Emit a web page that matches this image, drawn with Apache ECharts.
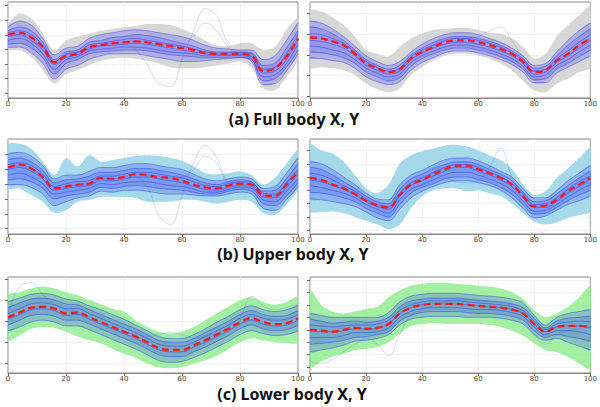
<!DOCTYPE html>
<html>
<head>
<meta charset="utf-8">
<script src="https://cdn.jsdelivr.net/npm/echarts@6/dist/echarts.min.js"></script>
<style>
  html, body { margin: 0; padding: 0; background: #fff; }
  #chart { width: 600px; height: 407px; }
</style>
</head>
<body>
<div id="chart"></div>
<script>
// normalised time (%) shared by every panel
const xs = [0, 4, 8, 12, 16, 20, 24, 28, 32, 36, 40, 44, 48, 52, 56, 60, 64, 68, 72, 76, 80, 84, 88, 92, 96, 100]
const xTicks = [0, 20, 40, 60, 80, 100]

// (a) full body, left panel
const aLeftMean = [66, 68, 63, 53, 37, 44, 46, 53, 55, 57, 58, 59, 58, 56, 54, 52, 50, 47, 46, 46, 46, 44, 28, 31, 43, 62]
const aLeftUpper = [76, 88, 83, 67, 50, 60, 64, 67, 70, 72, 74, 75, 77, 77, 76, 72, 67, 60, 55, 54, 57, 57, 50, 53, 71, 83]
const aLeftLower = [51, 50, 43, 29, 15, 25, 29, 34, 39, 41, 42, 41, 39, 36, 32, 31, 31, 32, 34, 36, 38, 32, 10, 8, 22, 41]
const aLeftLines = [
  [74, 80, 76, 62, 45, 52, 54, 62, 66, 68, 70, 71, 70, 68, 66, 64, 60, 55, 52, 51, 50, 50, 40, 44, 60, 78],
  [70, 74, 70, 58, 40, 48, 50, 58, 60, 63, 64, 66, 65, 63, 60, 57, 54, 50, 48, 48, 48, 47, 34, 36, 52, 70],
  [68, 70, 66, 55, 38, 46, 48, 55, 57, 59, 61, 62, 60, 58, 56, 54, 51, 48, 47, 47, 47, 46, 30, 32, 46, 66],
  [64, 66, 60, 50, 35, 42, 45, 51, 54, 55, 56, 57, 56, 54, 52, 50, 48, 46, 45, 45, 45, 43, 26, 28, 40, 60],
  [60, 62, 57, 46, 30, 40, 43, 49, 51, 52, 53, 53, 52, 50, 48, 47, 46, 44, 44, 44, 44, 41, 22, 24, 36, 56],
  [56, 57, 52, 42, 25, 36, 40, 46, 48, 49, 50, 50, 49, 47, 45, 44, 43, 42, 42, 42, 42, 40, 18, 20, 32, 50],
  [53, 53, 47, 36, 20, 30, 34, 40, 44, 46, 46, 46, 44, 42, 40, 38, 38, 39, 40, 41, 42, 38, 14, 15, 28, 46]
]
const aLeftOutliers = [
  [64, 66, 62, 52, 38, 45, 47, 53, 55, 57, 56, 50, 35, 15, 12, 40, 70, 93, 85, 55, 46, 44, 30, 32, 44, 62],
  [66, 68, 64, 54, 38, 45, 47, 53, 55, 57, 58, 59, 58, 56, 54, 55, 65, 78, 70, 52, 46, 44, 29, 31, 43, 62]
]
const aLeftTicks = [5, 20.2, 35.4, 50.6, 65.8, 81, 96.2]

// (a) full body, right panel
const aRightMean = [63, 62, 59, 55, 46, 36, 31, 27, 30, 41, 48, 53, 58, 60, 60, 58, 55, 51, 46, 38, 27, 29, 39, 46, 55, 62]
const aRightUpper = [91, 90, 84, 76, 64, 50, 46, 43, 53, 62, 67, 71, 72, 73, 73, 71, 68, 67, 62, 53, 41, 46, 64, 76, 86, 95]
const aRightLower = [32, 32, 31, 29, 24, 15, 9, 6, 10, 24, 32, 39, 44, 46, 46, 44, 41, 36, 29, 18, 8, 6, 15, 20, 27, 32]
const aRightLines = [
  [80, 78, 72, 64, 54, 44, 38, 34, 38, 48, 56, 62, 66, 68, 68, 66, 62, 58, 52, 44, 34, 36, 48, 60, 70, 78],
  [74, 72, 67, 60, 50, 40, 34, 30, 34, 45, 52, 58, 62, 64, 64, 62, 59, 55, 49, 41, 31, 33, 44, 55, 64, 72],
  [67, 66, 62, 57, 48, 38, 32, 28, 31, 43, 50, 55, 60, 62, 62, 60, 57, 53, 47, 39, 28, 30, 41, 49, 58, 66],
  [60, 59, 56, 52, 44, 34, 29, 25, 28, 40, 47, 52, 56, 58, 58, 56, 53, 49, 44, 36, 25, 27, 37, 44, 52, 60],
  [54, 53, 50, 47, 40, 31, 26, 22, 25, 37, 44, 49, 53, 55, 55, 53, 50, 46, 41, 33, 22, 24, 34, 40, 48, 55],
  [48, 47, 45, 42, 36, 27, 22, 18, 21, 33, 41, 46, 50, 52, 52, 50, 47, 43, 38, 30, 19, 20, 30, 36, 43, 50],
  [42, 41, 39, 37, 31, 22, 17, 14, 17, 29, 37, 42, 47, 49, 49, 47, 44, 40, 35, 27, 16, 16, 26, 32, 38, 44]
]
const aRightOutliers = [
  [63, 62, 59, 55, 46, 36, 31, 27, 30, 41, 48, 53, 58, 60, 62, 64, 70, 74, 60, 42, 28, 29, 39, 46, 55, 62]
]
const aRightTicks = [1.7, 23.3, 44.9, 66.5, 88.1]

// (b) upper body, left panel
const bLeftMean = [70, 73, 69, 60, 48, 50, 52, 53, 59, 58, 60, 63, 62, 60, 59, 56, 52, 49, 48, 51, 53, 52, 41, 40, 52, 66]
const bLeftUpper = [94, 95, 90, 76, 62, 80, 71, 83, 76, 78, 80, 82, 83, 82, 80, 77, 71, 64, 63, 64, 66, 62, 52, 59, 74, 88]
const bLeftLower = [48, 48, 41, 34, 22, 25, 34, 36, 39, 39, 39, 38, 34, 34, 34, 36, 36, 34, 32, 34, 36, 34, 22, 20, 31, 48]
const bLeftLines = [
  [84, 86, 82, 72, 58, 62, 62, 66, 70, 70, 72, 74, 74, 72, 70, 68, 63, 58, 56, 58, 60, 58, 48, 50, 64, 80],
  [78, 80, 76, 67, 54, 57, 58, 61, 65, 65, 67, 69, 69, 67, 65, 62, 58, 54, 52, 55, 57, 55, 45, 46, 58, 74],
  [73, 75, 72, 63, 50, 53, 55, 56, 61, 61, 63, 65, 65, 63, 61, 59, 55, 51, 50, 53, 55, 54, 43, 42, 54, 68],
  [68, 70, 66, 58, 46, 48, 50, 51, 57, 56, 58, 60, 60, 58, 56, 54, 50, 47, 46, 49, 51, 50, 39, 38, 49, 63],
  [62, 64, 60, 53, 42, 44, 46, 48, 53, 52, 54, 55, 55, 53, 51, 50, 47, 44, 44, 47, 49, 48, 36, 34, 45, 58],
  [57, 58, 55, 48, 37, 40, 42, 44, 49, 48, 50, 51, 50, 48, 47, 46, 44, 42, 42, 45, 47, 45, 32, 30, 40, 54],
  [52, 52, 49, 42, 30, 34, 38, 40, 45, 44, 46, 46, 45, 43, 42, 42, 41, 40, 40, 42, 44, 42, 27, 25, 36, 50]
]
const bLeftOutliers = [
  [70, 73, 69, 60, 48, 50, 52, 53, 59, 58, 60, 60, 50, 20, 10, 40, 75, 93, 80, 55, 53, 52, 41, 40, 52, 66],
  [70, 72, 68, 60, 48, 50, 52, 53, 59, 58, 60, 63, 62, 60, 59, 60, 68, 82, 74, 54, 53, 52, 41, 40, 52, 66]
]
const bLeftTicks = [5.6, 21.2, 36.8, 52.4, 68, 83.6]

// (b) upper body, right panel
const bRightMean = [59, 57, 52, 48, 42, 35, 30, 28, 41, 52, 57, 63, 68, 72, 72, 68, 64, 59, 52, 40, 29, 30, 36, 45, 52, 59]
const bRightUpper = [94, 88, 85, 76, 62, 48, 43, 52, 74, 83, 87, 90, 93, 94, 92, 88, 83, 78, 69, 52, 41, 45, 59, 69, 80, 90]
const bRightLower = [24, 23, 24, 22, 18, 14, 10, 5, 10, 27, 40, 46, 48, 48, 45, 46, 43, 40, 32, 22, 13, 10, 12, 17, 20, 24]
const bRightLines = [
  [76, 74, 68, 60, 52, 43, 37, 36, 52, 62, 67, 73, 78, 80, 80, 77, 72, 66, 60, 48, 38, 38, 46, 56, 64, 72],
  [70, 68, 62, 55, 48, 40, 34, 32, 47, 58, 63, 69, 73, 76, 76, 73, 68, 63, 56, 44, 34, 35, 42, 51, 59, 66],
  [64, 62, 57, 51, 45, 37, 31, 29, 43, 54, 59, 65, 70, 73, 73, 70, 65, 60, 53, 42, 31, 32, 38, 47, 55, 61],
  [57, 55, 51, 47, 41, 34, 29, 26, 40, 51, 56, 61, 66, 70, 70, 66, 62, 57, 50, 38, 28, 28, 34, 43, 50, 57],
  [51, 49, 46, 43, 38, 31, 26, 22, 36, 47, 52, 57, 62, 65, 65, 62, 58, 53, 46, 35, 24, 25, 31, 39, 46, 52],
  [44, 43, 41, 38, 34, 27, 22, 18, 31, 43, 49, 53, 58, 60, 60, 57, 54, 49, 42, 31, 21, 22, 28, 35, 41, 46],
  [37, 36, 34, 32, 29, 23, 17, 14, 26, 38, 45, 50, 54, 56, 56, 54, 51, 46, 38, 27, 17, 19, 25, 31, 35, 40]
]
const bRightOutliers = [
  [59, 57, 52, 48, 42, 35, 30, 28, 41, 52, 57, 63, 60, 55, 54, 56, 70, 90, 60, 40, 29, 30, 36, 45, 52, 59]
]
const bRightTicks = [3.9, 17.9, 31.9, 45.9, 59.9, 73.9, 87.9]

// (c) lower body, left panel
const cLeftMean = [58, 63, 68, 69, 67, 62, 63, 58, 53, 48, 43, 38, 32, 26, 24, 24, 29, 34, 40, 46, 53, 57, 53, 51, 52, 57]
const cLeftUpper = [81, 84, 88, 90, 88, 84, 81, 76, 72, 67, 64, 55, 48, 43, 41, 43, 48, 55, 62, 69, 76, 79, 74, 71, 74, 79]
const cLeftLower = [34, 39, 46, 48, 47, 43, 38, 34, 31, 25, 20, 16, 10, 6, 5, 6, 10, 13, 18, 25, 32, 36, 34, 32, 31, 32]
const cLeftLines = [
  [74, 78, 82, 83, 81, 77, 75, 70, 66, 61, 56, 50, 44, 38, 36, 36, 40, 46, 53, 59, 66, 70, 66, 64, 66, 70],
  [68, 73, 77, 78, 76, 72, 71, 66, 61, 56, 51, 46, 40, 34, 32, 32, 36, 42, 48, 54, 61, 65, 61, 59, 60, 65],
  [62, 67, 72, 73, 71, 67, 67, 62, 57, 52, 47, 42, 36, 30, 28, 28, 32, 38, 44, 50, 57, 61, 57, 55, 56, 61],
  [56, 61, 66, 67, 65, 60, 61, 56, 51, 46, 41, 36, 30, 24, 22, 22, 27, 32, 38, 44, 51, 55, 51, 49, 50, 55],
  [50, 55, 60, 61, 59, 55, 55, 51, 46, 41, 36, 31, 25, 19, 17, 17, 22, 27, 33, 39, 46, 50, 46, 44, 45, 50],
  [44, 48, 53, 55, 53, 49, 49, 45, 40, 35, 30, 25, 19, 13, 11, 12, 16, 21, 27, 33, 40, 44, 41, 39, 40, 44]
]
const cLeftOutliers = [
  [62, 90, 94, 82, 72, 66, 63, 58, 53, 48, 43, 40, 38, 40, 42, 40, 36, 38, 42, 48, 58, 80, 70, 66, 68, 72]
]
const cLeftTicks = [9.7, 31.6, 53.5, 75.4, 97.3]

// (c) lower body, right panel
const cRightMean = [45, 44, 43, 45, 47, 46, 47, 51, 62, 68, 71, 72, 72, 72, 71, 70, 69, 68, 66, 62, 51, 43, 48, 49, 49, 48]
const cRightUpper = [86, 71, 64, 62, 64, 67, 69, 79, 86, 91, 93, 94, 94, 93, 92, 91, 90, 88, 84, 77, 65, 58, 62, 69, 79, 90]
const cRightLower = [6, 12, 17, 20, 24, 25, 27, 32, 41, 49, 51, 52, 51, 51, 51, 51, 50, 48, 44, 39, 31, 24, 22, 17, 10, 5]
const cRightLines = [
  [62, 60, 58, 58, 58, 58, 58, 63, 74, 80, 82, 83, 83, 83, 82, 81, 80, 79, 77, 73, 60, 50, 58, 62, 64, 66],
  [56, 54, 52, 53, 54, 53, 54, 58, 69, 75, 77, 78, 78, 78, 77, 76, 75, 74, 72, 68, 57, 47, 54, 57, 58, 59],
  [50, 49, 48, 49, 50, 50, 51, 55, 65, 71, 74, 75, 75, 75, 74, 73, 72, 71, 69, 65, 54, 45, 51, 53, 54, 53],
  [44, 43, 43, 44, 46, 46, 47, 51, 62, 68, 71, 72, 72, 72, 71, 70, 69, 68, 66, 62, 51, 43, 48, 49, 49, 47],
  [37, 37, 37, 39, 42, 42, 43, 47, 58, 64, 67, 68, 68, 68, 67, 66, 66, 65, 63, 59, 48, 40, 44, 44, 43, 40],
  [30, 31, 32, 34, 37, 38, 40, 43, 54, 60, 63, 64, 64, 64, 63, 62, 62, 61, 59, 55, 44, 37, 40, 38, 36, 33],
  [22, 24, 26, 29, 33, 34, 36, 40, 50, 56, 58, 59, 59, 59, 58, 58, 58, 57, 55, 51, 40, 34, 36, 32, 28, 24]
]
const cRightOutliers = [
  [12, 10, 14, 22, 30, 36, 30, 18, 40, 60, 66, 70, 74, 76, 76, 75, 74, 73, 70, 62, 40, 30, 40, 44, 46, 48]
]
const cRightTicks = [6.3, 19.2, 32.1, 45, 57.9, 70.8, 83.7, 96.6]

const titles = ['(a) Full body X, Y', '(b) Upper body X, Y', '(c) Lower body X, Y']

const GRAY = 'rgba(205,205,205,0.8)'
const CYAN = 'rgba(150,212,230,0.85)'
const GREEN = 'rgba(140,236,140,0.8)'

const panels = [
  { mean: aLeftMean, upper: aLeftUpper, lower: aLeftLower, lines: aLeftLines, outliers: aLeftOutliers, ticks: aLeftTicks, band: GRAY, box: { left: 8, top: 2, width: 290, height: 96 } },
  { mean: aRightMean, upper: aRightUpper, lower: aRightLower, lines: aRightLines, outliers: aRightOutliers, ticks: aRightTicks, band: GRAY, box: { left: 310, top: 2, width: 288, height: 96 } },
  { mean: bLeftMean, upper: bLeftUpper, lower: bLeftLower, lines: bLeftLines, outliers: bLeftOutliers, ticks: bLeftTicks, band: CYAN, box: { left: 8, top: 139, width: 290, height: 95 } },
  { mean: bRightMean, upper: bRightUpper, lower: bRightLower, lines: bRightLines, outliers: bRightOutliers, ticks: bRightTicks, band: CYAN, box: { left: 310, top: 139, width: 288, height: 95 } },
  { mean: cLeftMean, upper: cLeftUpper, lower: cLeftLower, lines: cLeftLines, outliers: cLeftOutliers, ticks: cLeftTicks, band: GREEN, box: { left: 8, top: 277, width: 290, height: 96 } },
  { mean: cRightMean, upper: cRightUpper, lower: cRightLower, lines: cRightLines, outliers: cRightOutliers, ticks: cRightTicks, band: GREEN, box: { left: 310, top: 277, width: 288, height: 96 } }
]

const pairs = arr => arr.map((v, i) => [xs[i], v])

// closed, smoothed area between two curves, placed through the axis scales
const areaSeries = (k, hi, lo, fill) => ({
  type: 'custom', xAxisIndex: k, yAxisIndex: k, silent: true, clip: true,
  data: [[0, 0]],
  renderItem: (params, api) => {
    const top = hi.map((v, i) => api.coord([xs[i], v]))
    const bottom = lo.map((v, i) => api.coord([xs[i], v])).reverse()
    return {
      type: 'polygon',
      shape: { points: top.concat(bottom), smooth: 0.3 },
      style: { fill: fill }
    }
  }
})

const chart = echarts.init(document.getElementById('chart'), null, { renderer: 'svg' })

let grid = []
let xAxis = []
let yAxis = []
let series = []

panels.forEach((p, k) => {
  grid.push(Object.assign({ show: true, borderColor: '#888', borderWidth: 1, backgroundColor: '#fff' }, p.box))
  xAxis.push({
    type: 'value', gridIndex: k, min: 0, max: 100, interval: 20,
    axisLine: { show: true, lineStyle: { color: '#888' } },
    axisTick: { show: true, length: 3, lineStyle: { color: '#666' } },
    axisLabel: { fontSize: 7, color: '#444', margin: 2, fontFamily: 'DejaVu Sans', customValues: xTicks },
    splitLine: { show: true, lineStyle: { color: '#ddd', type: 'dotted', width: 0.8 } }
  })
  yAxis.push({
    type: 'value', gridIndex: k, min: 0, max: 100,
    axisLine: { show: false },
    axisTick: { show: true, length: 3, lineStyle: { color: '#666' }, customValues: p.ticks },
    axisLabel: { show: false },
    splitLine: { show: true, lineStyle: { color: '#ddd', type: 'dotted', width: 0.8 } }
  })
  series.push(areaSeries(k, p.upper, p.lower, p.band))
  // blue haze where most of the traces run
  series.push(areaSeries(k, p.lines[0], p.lines[p.lines.length - 1], 'rgba(60,70,255,0.26)'))
  series.push(areaSeries(k, p.lines[1], p.lines[p.lines.length - 2], 'rgba(50,60,255,0.2)'))
  p.outliers.forEach(line => {
    series.push({
      type: 'line', xAxisIndex: k, yAxisIndex: k, smooth: 0.4, symbol: 'none', silent: true,
      lineStyle: { color: 'rgba(90,90,250,0.3)', width: 0.8 },
      data: pairs(line)
    })
  })
  p.lines.forEach(line => {
    series.push({
      type: 'line', xAxisIndex: k, yAxisIndex: k, smooth: 0.4, symbol: 'none', silent: true,
      lineStyle: { color: 'rgba(30,40,245,0.5)', width: 0.8 },
      data: pairs(line)
    })
  })
  series.push({
    type: 'line', xAxisIndex: k, yAxisIndex: k, smooth: 0.4, symbol: 'none', silent: true, z: 5,
    lineStyle: { color: '#ff1a1a', width: 2.3, type: [7, 4] },
    data: pairs(p.mean)
  })
})

const titleStyle = { font: 'bold 16px "Noto Sans"', fill: '#111', align: 'center', verticalAlign: 'middle' }

const option = {
  animation: false,
  grid,
  xAxis,
  yAxis,
  series,
  graphic: [
    { type: 'text', x: 294, y: 119, style: Object.assign({ text: titles[0] }, titleStyle) },
    { type: 'text', x: 293, y: 254, style: Object.assign({ text: titles[1] }, titleStyle) },
    { type: 'text', x: 292, y: 394, style: Object.assign({ text: titles[2] }, titleStyle) }
  ]
}

chart.setOption(option)
</script>
</body>
</html>
